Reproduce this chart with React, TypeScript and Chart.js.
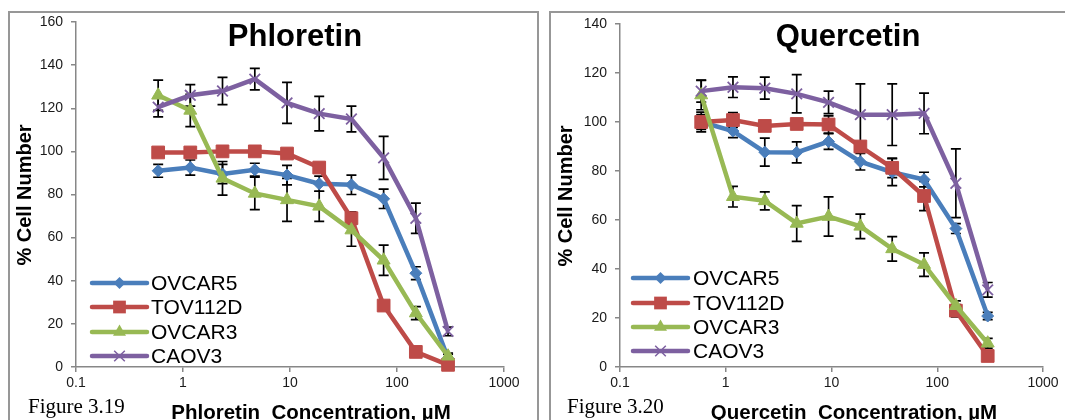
import React, { useEffect, useRef } from 'react';
import { Chart, registerables } from 'chart.js';

Chart.register(...registerables);

// ---------- data ----------
const concentrations = [0.586, 1.17, 2.34, 4.69, 9.38, 18.75, 37.5, 75, 150, 300];
const xTickValues = [0.1, 1, 10, 100, 1000];
const seriesNames = ['OVCAR5', 'TOV112D', 'OVCAR3', 'CAOV3'];

// Phloretin
const phlOVCAR5 = [91, 92.5, 89.5, 91.5, 89, 85, 84.5, 78, 43.5, 4];
const phlOVCAR5Err = [3, 3.5, 4.5, 3, 4.5, 3.5, 4.5, 4.5, 3, 2];
const phlTOV112D = [99.5, 99.5, 100, 100, 99, 92.5, 69, 28.5, 7, 1];
const phlTOV112DErr = [1, 1, 1, 1, 1, 1.5, 3, 1.5, 1, 0.5];
const phlOVCAR3 = [126, 119, 87.5, 80.5, 77.5, 74.5, 63.5, 49.5, 25, 5];
const phlOVCAR3Err = [7, 7.5, 7.8, 7.5, 10, 7, 7.5, 7, 3, 1.5];
const phlCAOV3 = [120.5, 126, 128, 133.5, 122.5, 117.5, 115, 97, 69, 16.5];
const phlCAOV3Err = [4.5, 5, 6.3, 5, 9.5, 8, 6, 10, 7, 2];
const phlYTicks = [0, 20, 40, 60, 80, 100, 120, 140, 160];

// Quercetin
const qOVCAR5 = [100, 96.3, 87.7, 87.6, 92, 83.8, 79.5, 76.5, 56.5, 20.8];
const qOVCAR5Err = [3, 2.7, 5.7, 4.3, 3.2, 3.4, 5.5, 3, 2, 1.5];
const qTOV112D = [100, 100.8, 98.4, 99.2, 99, 90, 81.3, 69.8, 23, 4.5];
const qTOV112DErr = [4, 3, 1.5, 1.5, 3.5, 2, 4, 6, 2.5, 1];
const qOVCAR3 = [111, 69.5, 67.8, 58.6, 61.4, 57.4, 48.2, 41.8, 25, 9.7];
const qOVCAR3Err = [6, 4.2, 3.7, 7.3, 8, 5, 5, 4.8, 2, 2];
const qCAOV3 = [112.6, 114.2, 113.8, 111.5, 108, 103, 103, 103.5, 75, 31.5];
const qCAOV3Err = [4.5, 4.2, 4.5, 7.8, 4.6, 12.6, 12.6, 8.3, 14, 3];
const qYTicks = [0, 20, 40, 60, 80, 100, 120, 140];

// ---------- styles ----------
const seriesColors = ['#4A7EBB', '#BE4B48', '#98B954', '#7D60A0'];
const markerStyles = ['rectRot', 'rect', 'triangle', 'crossRot'];
const markerRadius = [6, 9, 7.5, 7.5];
const SANS = '"Liberation Sans", Arial, sans-serif';
const SERIF = '"Liberation Serif", "Times New Roman", serif';
const AXIS_COLOR = '#878787';

type Panel = {
  title: string;
  xTitle: string;
  figure: string;
  series: number[][];
  errors: number[][];
  yTicks: number[];
  canvasLeft: number;
  canvasWidth: number;
  area: { left: number; right: number; top: number; bottom: number };
  titleX: number;
  titleY: number;
  yTitleX: number;
  yTitleY: number;
  xTitleX: number;
  xTitleY: number;
  figX: number;
  figY: number;
  legendX1: number;
  legendX2: number;
  legendTextX: number;
  legendRows: number[];
};

const panels: Panel[] = [
  {
    title: 'Phloretin',
    xTitle: 'Phloretin  Concentration, µM',
    figure: 'Figure 3.19',
    series: [phlOVCAR5, phlTOV112D, phlOVCAR3, phlCAOV3],
    errors: [phlOVCAR5Err, phlTOV112DErr, phlOVCAR3Err, phlCAOV3Err],
    yTicks: phlYTicks,
    canvasLeft: 0,
    canvasWidth: 540,
    area: { left: 76, right: 504, top: 22, bottom: 367 },
    titleX: 295,
    titleY: 46,
    yTitleX: 25,
    yTitleY: 195,
    xTitleX: 311,
    xTitleY: 419,
    figX: 28,
    figY: 413,
    legendX1: 92,
    legendX2: 147,
    legendTextX: 151,
    legendRows: [283, 307, 332, 356],
  },
  {
    title: 'Quercetin',
    xTitle: 'Quercetin  Concentration, µM',
    figure: 'Figure 3.20',
    series: [qOVCAR5, qTOV112D, qOVCAR3, qCAOV3],
    errors: [qOVCAR5Err, qTOV112DErr, qOVCAR3Err, qCAOV3Err],
    yTicks: qYTicks,
    canvasLeft: 540,
    canvasWidth: 525,
    area: { left: 80, right: 503, top: 24, bottom: 367 },
    titleX: 308,
    titleY: 46,
    yTitleX: 26,
    yTitleY: 196,
    xTitleX: 314,
    xTitleY: 419,
    figX: 27,
    figY: 413,
    legendX1: 93,
    legendX2: 148,
    legendTextX: 153,
    legendRows: [278, 303, 327, 351],
  },
];

function drawMarker(ctx: CanvasRenderingContext2D, style: string, x: number, y: number, r: number, color: string) {
  ctx.save();
  ctx.fillStyle = color;
  ctx.strokeStyle = color;
  ctx.lineWidth = 1.5;
  ctx.beginPath();
  if (style === 'rectRot') {
    ctx.moveTo(x, y - r);
    ctx.lineTo(x + r, y);
    ctx.lineTo(x, y + r);
    ctx.lineTo(x - r, y);
    ctx.closePath();
    ctx.fill();
  } else if (style === 'rect') {
    const s = r * Math.SQRT1_2;
    ctx.rect(x - s, y - s, 2 * s, 2 * s);
    ctx.fill();
  } else if (style === 'triangle') {
    for (let k = 0; k < 3; k++) {
      const a = (k * 2 * Math.PI) / 3;
      const px = x + Math.sin(a) * r;
      const py = y - Math.cos(a) * r;
      if (k === 0) ctx.moveTo(px, py);
      else ctx.lineTo(px, py);
    }
    ctx.closePath();
    ctx.fill();
  } else {
    const d = r * Math.SQRT1_2;
    ctx.moveTo(x - d, y - d);
    ctx.lineTo(x + d, y + d);
    ctx.moveTo(x + d, y - d);
    ctx.lineTo(x - d, y + d);
    ctx.stroke();
  }
  ctx.restore();
}

function makeDecorPlugin(p: Panel) {
  return {
    id: 'panelDecor',
    beforeDatasetsDraw(chart: any) {
      const ctx: CanvasRenderingContext2D = chart.ctx;
      const xs = chart.scales.x;
      const ys = chart.scales.y;
      ctx.save();
      ctx.strokeStyle = '#000';
      ctx.lineWidth = 1.7;
      p.errors.forEach((errs, si) => {
        errs.forEach((e, i) => {
          if (!e) return;
          const v = p.series[si][i];
          const x = xs.getPixelForValue(concentrations[i]);
          const yT = ys.getPixelForValue(v + e);
          const yB = ys.getPixelForValue(Math.max(v - e, 0));
          ctx.beginPath();
          ctx.moveTo(x, yT);
          ctx.lineTo(x, yB);
          ctx.moveTo(x - 5, yT);
          ctx.lineTo(x + 5, yT);
          ctx.moveTo(x - 5, yB);
          ctx.lineTo(x + 5, yB);
          ctx.stroke();
        });
      });
      ctx.restore();
    },
    afterDraw(chart: any) {
      const ctx: CanvasRenderingContext2D = chart.ctx;
      ctx.save();
      ctx.fillStyle = '#000';
      // title
      ctx.font = `bold 31px ${SANS}`;
      ctx.textAlign = 'center';
      ctx.textBaseline = 'alphabetic';
      ctx.fillText(p.title, p.titleX, p.titleY);
      // x title
      ctx.font = `bold 20.5px ${SANS}`;
      ctx.fillText(p.xTitle, p.xTitleX, p.xTitleY);
      // figure label
      ctx.font = `21px ${SERIF}`;
      ctx.textAlign = 'left';
      ctx.fillText(p.figure, p.figX, p.figY);
      // y title
      ctx.save();
      ctx.translate(p.yTitleX, p.yTitleY);
      ctx.rotate(-Math.PI / 2);
      ctx.font = `bold 20px ${SANS}`;
      ctx.textAlign = 'center';
      ctx.textBaseline = 'middle';
      ctx.fillText('% Cell Number', 0, 0);
      ctx.restore();
      // legend
      seriesNames.forEach((name, i) => {
        const y = p.legendRows[i];
        ctx.save();
        ctx.strokeStyle = seriesColors[i];
        ctx.lineWidth = 4.5;
        ctx.lineCap = 'round';
        ctx.beginPath();
        ctx.moveTo(p.legendX1, y);
        ctx.lineTo(p.legendX2, y);
        ctx.stroke();
        ctx.restore();
        drawMarker(ctx, markerStyles[i], (p.legendX1 + p.legendX2) / 2, y, markerRadius[i], seriesColors[i]);
        ctx.fillStyle = '#000';
        ctx.font = `21px ${SANS}`;
        ctx.textAlign = 'left';
        ctx.textBaseline = 'middle';
        ctx.fillText(name, p.legendTextX, y + 1);
      });
      ctx.restore();
    },
  };
}

function buildConfig(p: Panel): any {
  const H = 420;
  const datasets = p.series.map((vals, si) => ({
    label: seriesNames[si],
    data: vals.map((v, i) => ({ x: concentrations[i], y: v })),
    borderColor: seriesColors[si],
    backgroundColor: seriesColors[si],
    borderWidth: 4.5,
    pointStyle: markerStyles[si],
    pointRadius: markerRadius[si],
    pointBorderWidth: si === 3 ? 1.8 : 1,
    pointBorderColor: seriesColors[si],
    pointBackgroundColor: seriesColors[si],
    tension: 0,
    clip: false,
    order: 3 - si,
  }));
  return {
    type: 'line',
    data: { datasets },
    plugins: [makeDecorPlugin(p)],
    options: {
      animation: false,
      responsive: false,
      devicePixelRatio: 1,
      events: [],
      layout: {
        padding: { left: 0, top: p.area.top, right: p.canvasWidth - p.area.right, bottom: 0 },
      },
      plugins: { legend: { display: false }, tooltip: { enabled: false }, title: { display: false } },
      scales: {
        x: {
          type: 'logarithmic',
          min: xTickValues[0],
          max: xTickValues[xTickValues.length - 1],
          afterBuildTicks: (s: any) => {
            s.ticks = xTickValues.map((v) => ({ value: v }));
          },
          afterFit: (s: any) => {
            s.height = H - p.area.bottom;
          },
          ticks: {
            autoSkip: false,
            maxRotation: 0,
            padding: 3,
            color: '#1a1a1a',
            font: { family: SANS, size: 14 },
            callback: (v: number) => String(v),
          },
          grid: { drawOnChartArea: false, drawTicks: true, tickLength: 5, color: AXIS_COLOR, lineWidth: 1.5 },
          border: { color: AXIS_COLOR, width: 1.5 },
        },
        y: {
          type: 'linear',
          min: p.yTicks[0],
          max: p.yTicks[p.yTicks.length - 1],
          afterBuildTicks: (s: any) => {
            s.ticks = p.yTicks.map((v) => ({ value: v }));
          },
          afterFit: (s: any) => {
            s.width = p.area.left;
          },
          ticks: {
            padding: 8,
            color: '#1a1a1a',
            font: { family: SANS, size: 14 },
            callback: (v: number) => String(v),
          },
          grid: { drawOnChartArea: false, drawTicks: true, tickLength: 5, color: AXIS_COLOR, lineWidth: 1.5 },
          border: { color: AXIS_COLOR, width: 1.5 },
        },
      },
    },
  };
}

function PanelChart({ panel }: { panel: Panel }) {
  const ref = useRef<HTMLCanvasElement | null>(null);
  useEffect(() => {
    if (!ref.current) return;
    const chart = new Chart(ref.current, buildConfig(panel));
    return () => chart.destroy();
  }, [panel]);
  return (
    <canvas
      ref={ref}
      width={panel.canvasWidth}
      height={420}
      style={{ position: 'absolute', left: panel.canvasLeft, top: 0, width: panel.canvasWidth, height: 420 }}
    />
  );
}

export default function App() {
  return (
    <div
      style={{
        position: 'fixed',
        left: 0,
        top: 0,
        width: 1065,
        height: 420,
        overflow: 'hidden',
        background: '#fff',
      }}
    >
      <div
        style={{
          position: 'absolute',
          left: 8,
          top: 11,
          width: 527,
          height: 430,
          border: '2px solid #979797',
        }}
      />
      <div
        style={{
          position: 'absolute',
          left: 549,
          top: 11,
          width: 540,
          height: 430,
          border: '2px solid #979797',
        }}
      />
      {panels.map((p) => (
        <PanelChart key={p.title} panel={p} />
      ))}
    </div>
  );
}
